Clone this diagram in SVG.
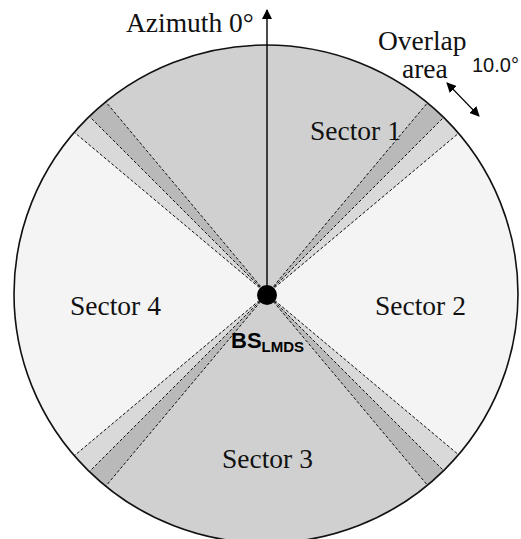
<svg xmlns="http://www.w3.org/2000/svg" width="521" height="539" viewBox="0 0 521 539">
  <style>
    .lbl { font-family: "Liberation Serif", "Times New Roman", serif; font-size: 27.5px; fill: #111; }
    .main { fill: #d0d0d0; }
    .side { fill: #f4f4f4; }
    .band-dark { fill: #b9b9b9; }
    .band-light { fill: #d9d9d9; }
    .edge { stroke: #111; stroke-width: 1; stroke-dasharray: 3 2; fill: none; }
  </style>
  <defs>
    <clipPath id="disc">
      <ellipse cx="266" cy="294" rx="252" ry="249"/>
    </clipPath>
    <marker id="tip" viewBox="0 0 10 10" refX="9" refY="5" markerWidth="10" markerHeight="10" markerUnits="userSpaceOnUse" orient="auto-start-reverse">
      <path d="M0,0 L10,5 L0,10 Z" fill="#000"/>
    </marker>
  </defs>

  <!-- coverage disc with the four sectors and their overlap bands -->
  <g id="coverage" clip-path="url(#disc)">
    <rect class="main" x="0" y="0" width="521" height="539"/>
    <g id="sector2"><polygon class="side" points="267,294 573.4,36.9 573.4,551.1"/></g>
    <g id="sector4"><polygon class="side" points="267,294 -39.4,551.1 -39.4,36.9"/></g>
    <g id="overlaps">
      <polygon class="band-dark" points="267,294 524.1,-12.4 549.8,11.2"/>
      <polygon class="band-light" points="267,294 549.8,11.2 573.4,36.9"/>
      <polygon class="band-light" points="267,294 573.4,551.1 549.8,576.8"/>
      <polygon class="band-dark" points="267,294 549.8,576.8 524.1,600.4"/>
      <polygon class="band-dark" points="267,294 9.9,600.4 -15.8,576.8"/>
      <polygon class="band-light" points="267,294 -15.8,576.8 -39.4,551.1"/>
      <polygon class="band-light" points="267,294 -39.4,36.9 -15.8,11.2"/>
      <polygon class="band-dark" points="267,294 -15.8,11.2 9.9,-12.4"/>
    </g>
    <g id="edges">
      <line class="edge" x1="267" y1="294" x2="524.1" y2="-12.4"/>
      <line class="edge" x1="267" y1="294" x2="549.8" y2="11.2"/>
      <line class="edge" x1="267" y1="294" x2="573.4" y2="36.9"/>
      <line class="edge" x1="267" y1="294" x2="573.4" y2="551.1"/>
      <line class="edge" x1="267" y1="294" x2="549.8" y2="576.8"/>
      <line class="edge" x1="267" y1="294" x2="524.1" y2="600.4"/>
      <line class="edge" x1="267" y1="294" x2="9.9" y2="600.4"/>
      <line class="edge" x1="267" y1="294" x2="-15.8" y2="576.8"/>
      <line class="edge" x1="267" y1="294" x2="-39.4" y2="551.1"/>
      <line class="edge" x1="267" y1="294" x2="-39.4" y2="36.9"/>
      <line class="edge" x1="267" y1="294" x2="-15.8" y2="11.2"/>
      <line class="edge" x1="267" y1="294" x2="9.9" y2="-12.4"/>
    </g>
  </g>
  <ellipse cx="266" cy="294" rx="252" ry="249" fill="none" stroke="#111" stroke-width="1.6"/>

  <!-- connectors: azimuth reference and overlap width -->
  <g id="connectors">
    <line x1="267" y1="294" x2="267" y2="10" stroke="#000" stroke-width="1.4" marker-end="url(#tip)"/>
    <line x1="447" y1="83" x2="479" y2="116" stroke="#000" stroke-width="1.1" marker-start="url(#tip)" marker-end="url(#tip)"/>
  </g>

  <!-- sector labels -->
  <g id="label-sector1"><text class="lbl" x="310" y="140">Sector 1</text></g>
  <g id="label-sector2"><text class="lbl" x="375" y="315">Sector 2</text></g>
  <g id="label-sector3"><text class="lbl" x="222" y="468">Sector 3</text></g>
  <g id="label-sector4"><text class="lbl" x="70" y="315">Sector 4</text></g>

  <g id="azimuth"><text class="lbl" x="126" y="32">Azimuth 0°</text></g>
  <g id="overlap-note">
    <text class="lbl" x="378" y="50">Overlap</text>
    <text class="lbl" x="402" y="78">area</text>
    <text x="472" y="72" font-family="Liberation Sans, Arial, sans-serif" font-size="20" fill="#111">10.0°</text>
  </g>

  <!-- base station -->
  <g id="bs">
    <circle cx="267" cy="295" r="10" fill="#000"/>
    <text x="231" y="348" font-family="Liberation Sans, Arial, sans-serif" font-weight="bold" font-size="22" fill="#000">BS<tspan font-size="15" dy="4">LMDS</tspan></text>
  </g>
</svg>
